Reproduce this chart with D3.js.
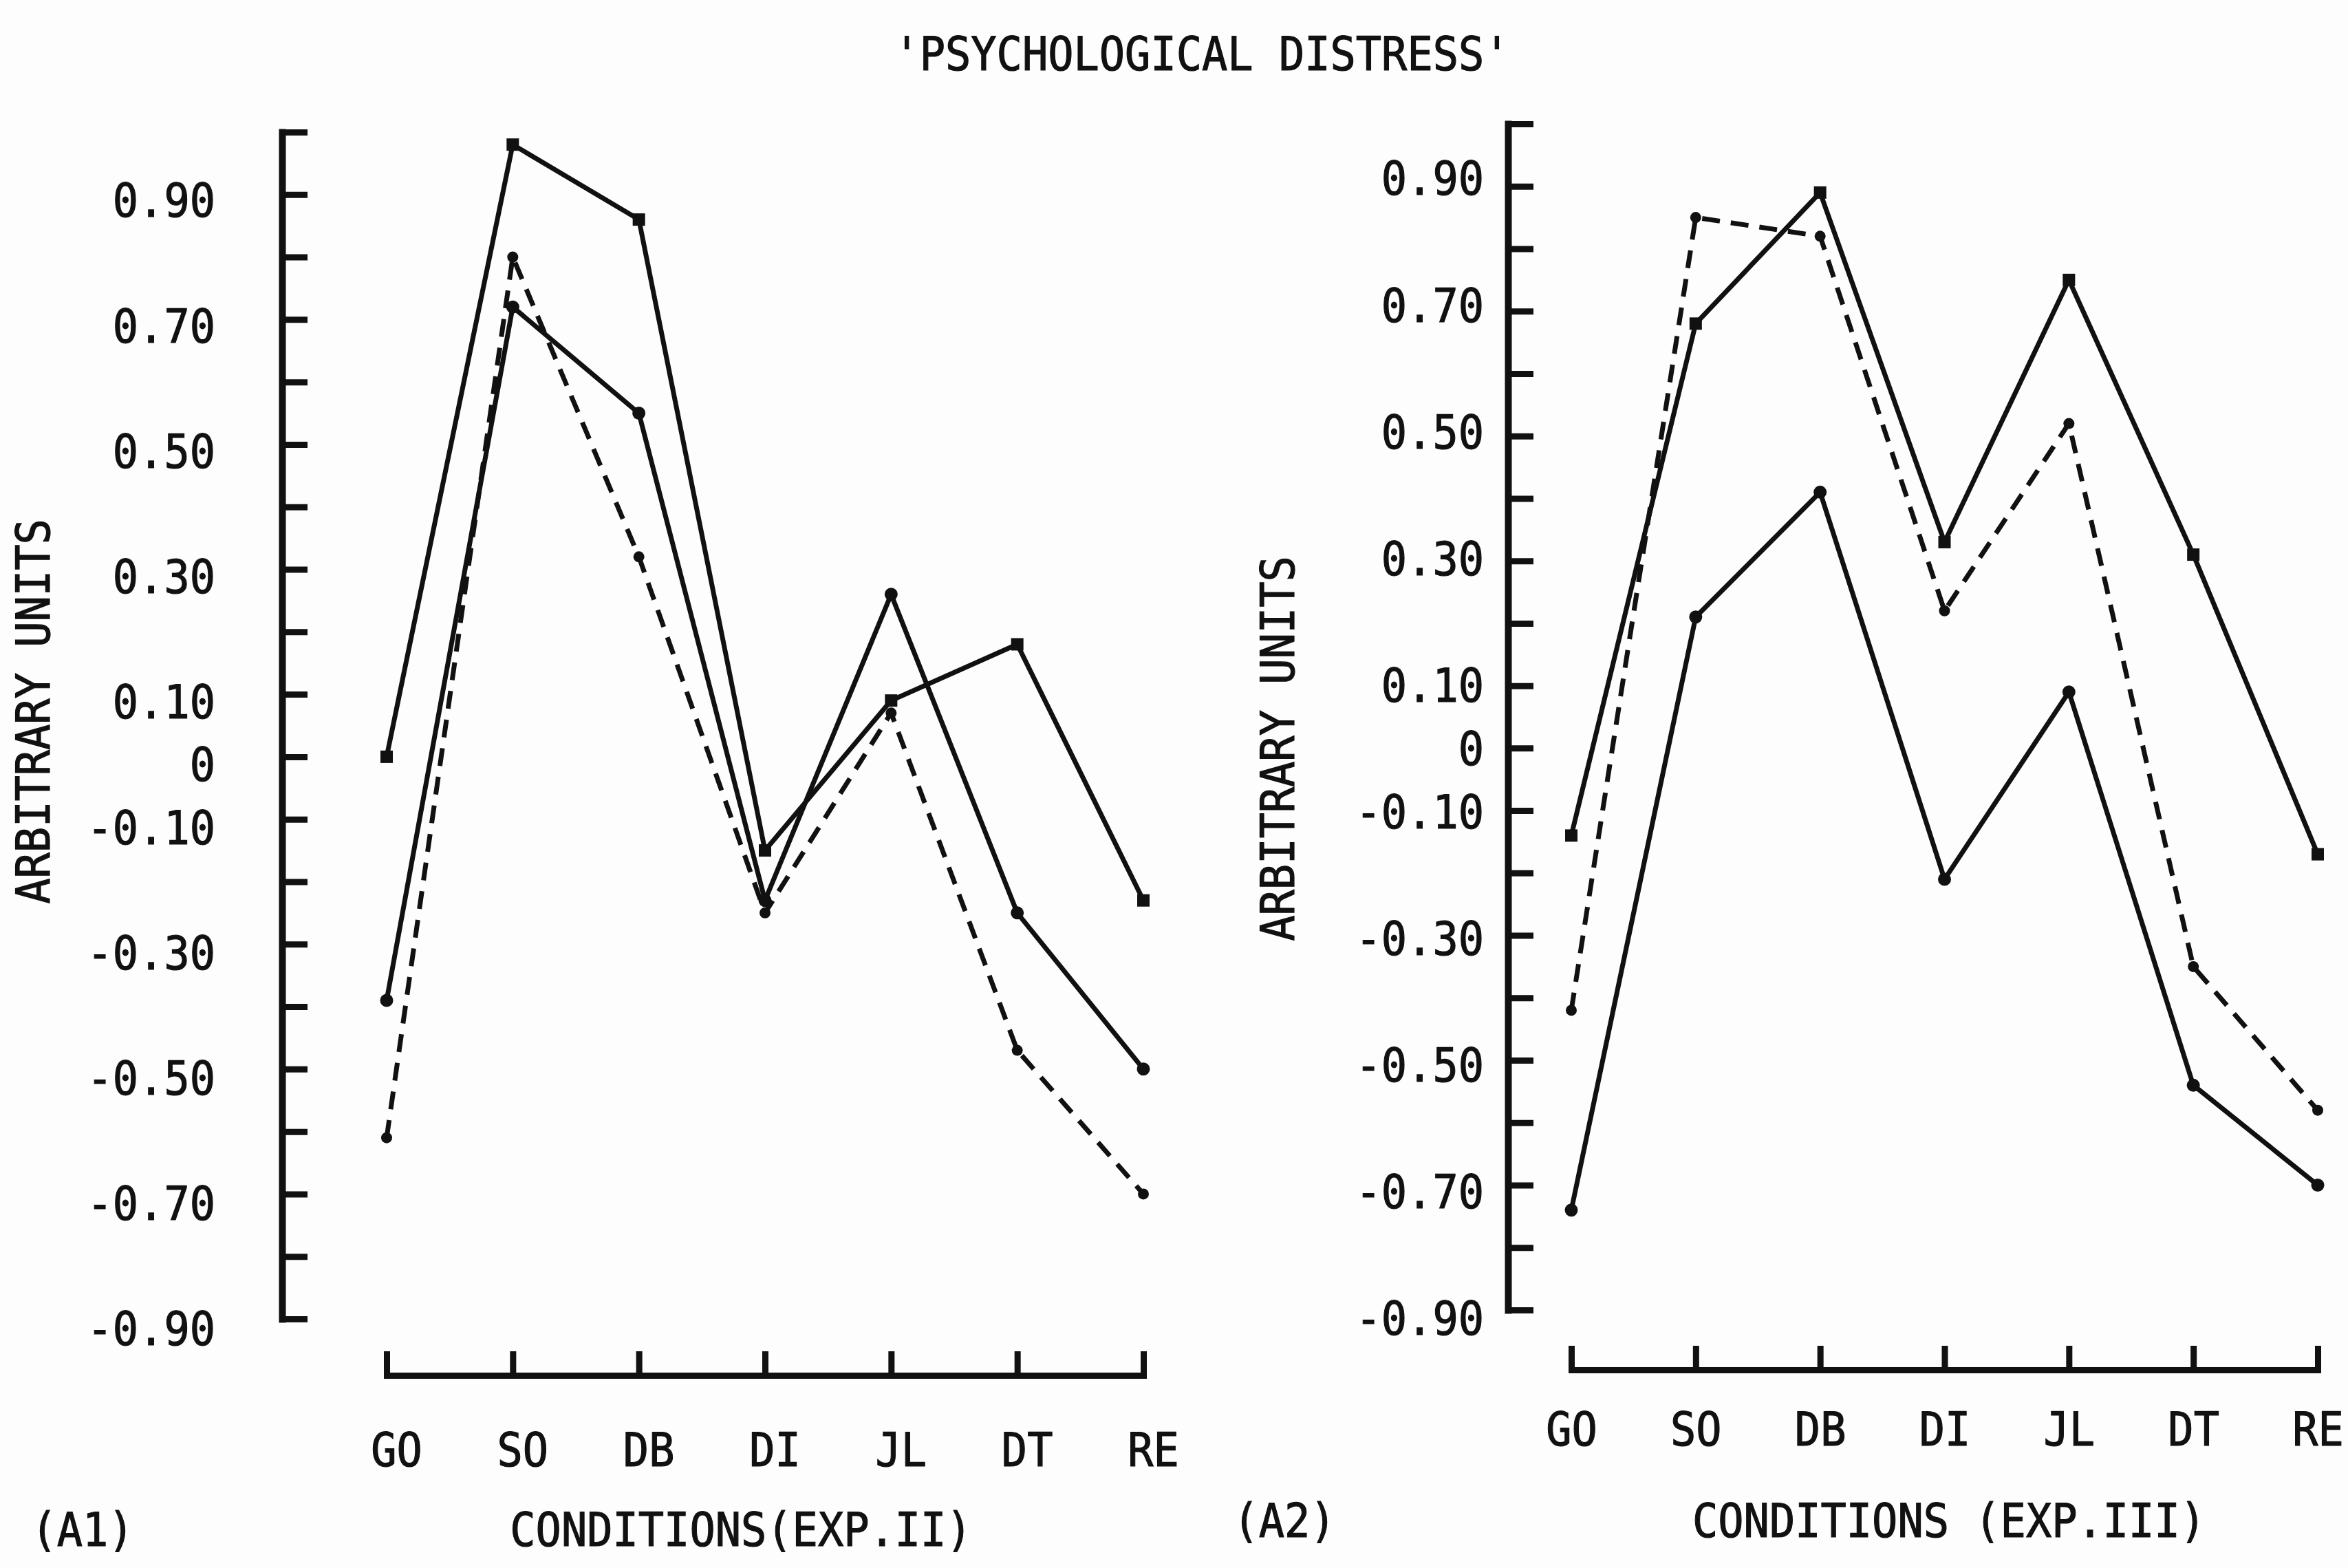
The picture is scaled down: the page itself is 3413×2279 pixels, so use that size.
<!DOCTYPE html>
<html>
<head>
<meta charset="utf-8">
<script src="https://cdn.jsdelivr.net/npm/d3@7"></script>
<style>
  html, body { margin: 0; padding: 0; background: #fdfdfd; }
  svg text {
    font-family: "DejaVu Sans Mono", "Liberation Mono", monospace;
    fill: #111; stroke: #111; stroke-width: 1.2px;
  }
</style>
</head>
<body>
<svg id="chart" width="3413" height="2279"></svg>
<script>
// Conditions on the x axis
const categories = ["GO", "SO", "DB", "DI", "JL", "DT", "RE"];

// Experiment II (A1): three groups
const expII_solidSquares = [0.00, 0.98, 0.86, -0.15, 0.09, 0.18, -0.23];
const expII_solidDots    = [-0.39, 0.72, 0.55, -0.23, 0.26, -0.25, -0.50];
const expII_dashed       = [-0.61, 0.80, 0.32, -0.25, 0.07, -0.47, -0.70];

// Experiment III (A2): three groups
const expIII_solidSquares = [-0.14, 0.68, 0.89, 0.33, 0.75, 0.31, -0.17];
const expIII_dashed       = [-0.42, 0.85, 0.82, 0.22, 0.52, -0.35, -0.58];
const expIII_solidDots    = [-0.74, 0.21, 0.41, -0.21, 0.09, -0.54, -0.70];

// Y axis: a tick every 0.10 from -0.90 to 1.00, labels on every other one
const yTickValues = [1.0, 0.9, 0.8, 0.7, 0.6, 0.5, 0.4, 0.3, 0.2, 0.1, 0,
                     -0.1, -0.2, -0.3, -0.4, -0.5, -0.6, -0.7, -0.8, -0.9];
const yLabelValues = [0.9, 0.7, 0.5, 0.3, 0.1, 0, -0.1, -0.3, -0.5, -0.7, -0.9];
const yLabelTexts  = ["0.90", "0.70", "0.50", "0.30", "0.10", "0",
                      "-0.10", "-0.30", "-0.50", "-0.70", "-0.90"];

const title = "'PSYCHOLOGICAL DISTRESS'";
const yTitle = "ARBITRARY UNITS";

const svg = d3.select("#chart");
const FONT = 68;       // tall, narrow plotter lettering
const ADVANCE = 37.3;  // fixed character pitch

// Squeeze each string to the fixed pitch so the taller glyphs stay narrow
function pitch(sel) {
  sel.each(function () {
    const t = d3.select(this);
    const n = t.text().length;
    if (n > 0) t.attr("textLength", n * ADVANCE).attr("lengthAdjust", "spacingAndGlyphs");
  });
  return sel;
}

svg.append("text")
  .attr("x", 1747).attr("y", 102)
  .attr("text-anchor", "middle")
  .style("font-size", FONT + "px")
  .text(title)
  .call(pitch);

const panels = [
  {
    tag: "(A1)", xTitle: "CONDITIONS(EXP.II)",
    axisX: 410, yRange: [1917, 192], labelRange: [1931, 291], labelGap: 97,
    xAxisY: 1999, xRange: [562, 1662], xLabelPad: 84, xLabelShift: 14,
    yTitlePos: [48, 1034], tagPos: [120, 2247], xTitlePos: [1077, 2247],
    series: [
      { values: expII_solidSquares, dashed: false, marker: "square" },
      { values: expII_solidDots,    dashed: false, marker: "circle" },
      { values: expII_dashed,       dashed: true,  marker: "dot" }
    ]
  },
  {
    tag: "(A2)", xTitle: "CONDITIONS (EXP.III)",
    axisX: 2192, yRange: [1904, 180], labelRange: [1916, 259], labelGap: 35,
    xAxisY: 1991, xRange: [2284, 3369], xLabelPad: 62, xLabelShift: 0,
    yTitlePos: [1857, 1088], tagPos: [1867, 2234], xTitlePos: [2833, 2234],
    series: [
      { values: expIII_solidSquares, dashed: false, marker: "square" },
      { values: expIII_dashed,       dashed: true,  marker: "dot" },
      { values: expIII_solidDots,    dashed: false, marker: "circle" }
    ]
  }
];

panels.forEach(p => {
  const g = svg.append("g");
  const y = d3.scaleLinear().domain([-0.9, 1.0]).range(p.yRange);
  const yLab = d3.scaleLinear().domain([-0.9, 0.9]).range(p.labelRange);
  const x = d3.scalePoint().domain(categories).range(p.xRange);

  // Vertical axis with inward-pointing ticks
  const yAxis = d3.axisLeft(y)
    .tickValues(yTickValues)
    .tickSizeInner(-37)
    .tickSizeOuter(0)
    .tickFormat(() => "");
  const ya = g.append("g")
    .attr("transform", `translate(${p.axisX},0)`)
    .call(yAxis);
  ya.select(".domain").attr("stroke", "#111").attr("stroke-width", 10).attr("stroke-linecap", "square");
  ya.selectAll(".tick line").attr("stroke", "#111").attr("stroke-width", 9);

  g.selectAll("text.ylab")
    .data(yLabelValues)
    .join("text")
    .attr("class", "ylab")
    .attr("x", p.axisX - p.labelGap)
    .attr("y", d => yLab(d))
    .attr("dy", "0.36em")
    .attr("text-anchor", "end")
    .style("font-size", FONT + "px")
    .text((d, i) => yLabelTexts[i])
    .call(pitch);

  // Horizontal condition axis, ticks pointing up
  const xAxis = d3.axisBottom(x)
    .tickSizeInner(-35)
    .tickSizeOuter(0)
    .tickPadding(p.xLabelPad);
  const xa = g.append("g")
    .attr("transform", `translate(0,${p.xAxisY})`)
    .call(xAxis);
  xa.select(".domain").attr("stroke", "#111").attr("stroke-width", 9).attr("stroke-linecap", "square");
  xa.selectAll(".tick line").attr("stroke", "#111").attr("stroke-width", 9);
  xa.selectAll(".tick text")
    .attr("fill", "#111")
    .attr("dx", p.xLabelShift)
    .style("font-size", FONT + "px")
    .style("font-family", '"DejaVu Sans Mono", monospace')
    .call(pitch);

  // Axis titles
  g.append("text")
    .attr("transform", `translate(${p.yTitlePos[0]},${p.yTitlePos[1]}) rotate(-90)`)
    .attr("text-anchor", "middle")
    .attr("dy", "0.36em")
    .style("font-size", FONT + "px")
    .text(yTitle)
    .call(pitch);
  g.append("text")
    .attr("x", p.tagPos[0]).attr("y", p.tagPos[1])
    .attr("text-anchor", "middle")
    .style("font-size", FONT + "px")
    .text(p.tag)
    .call(pitch);
  g.append("text")
    .attr("x", p.xTitlePos[0]).attr("y", p.xTitlePos[1])
    .attr("text-anchor", "middle")
    .style("font-size", FONT + "px")
    .text(p.xTitle)
    .call(pitch);

  // Group profiles
  const line = d3.line()
    .x((d, i) => x(categories[i]))
    .y(d => y(d));

  p.series.forEach(s => {
    g.append("path")
      .datum(s.values)
      .attr("d", line)
      .attr("fill", "none")
      .attr("stroke", "#111")
      .attr("stroke-width", 7)
      .attr("stroke-linejoin", "round")
      .attr("stroke-dasharray", s.dashed ? "26,16" : null);

    if (s.marker === "square") {
      g.selectAll(null)
        .data(s.values)
        .join("rect")
        .attr("x", (d, i) => x(categories[i]) - 9)
        .attr("y", d => y(d) - 9)
        .attr("width", 18).attr("height", 18)
        .attr("fill", "#111");
    } else {
      g.selectAll(null)
        .data(s.values)
        .join("circle")
        .attr("cx", (d, i) => x(categories[i]))
        .attr("cy", d => y(d))
        .attr("r", s.marker === "dot" ? 8 : 9.5)
        .attr("fill", "#111");
    }
  });
});
</script>
</body>
</html>
